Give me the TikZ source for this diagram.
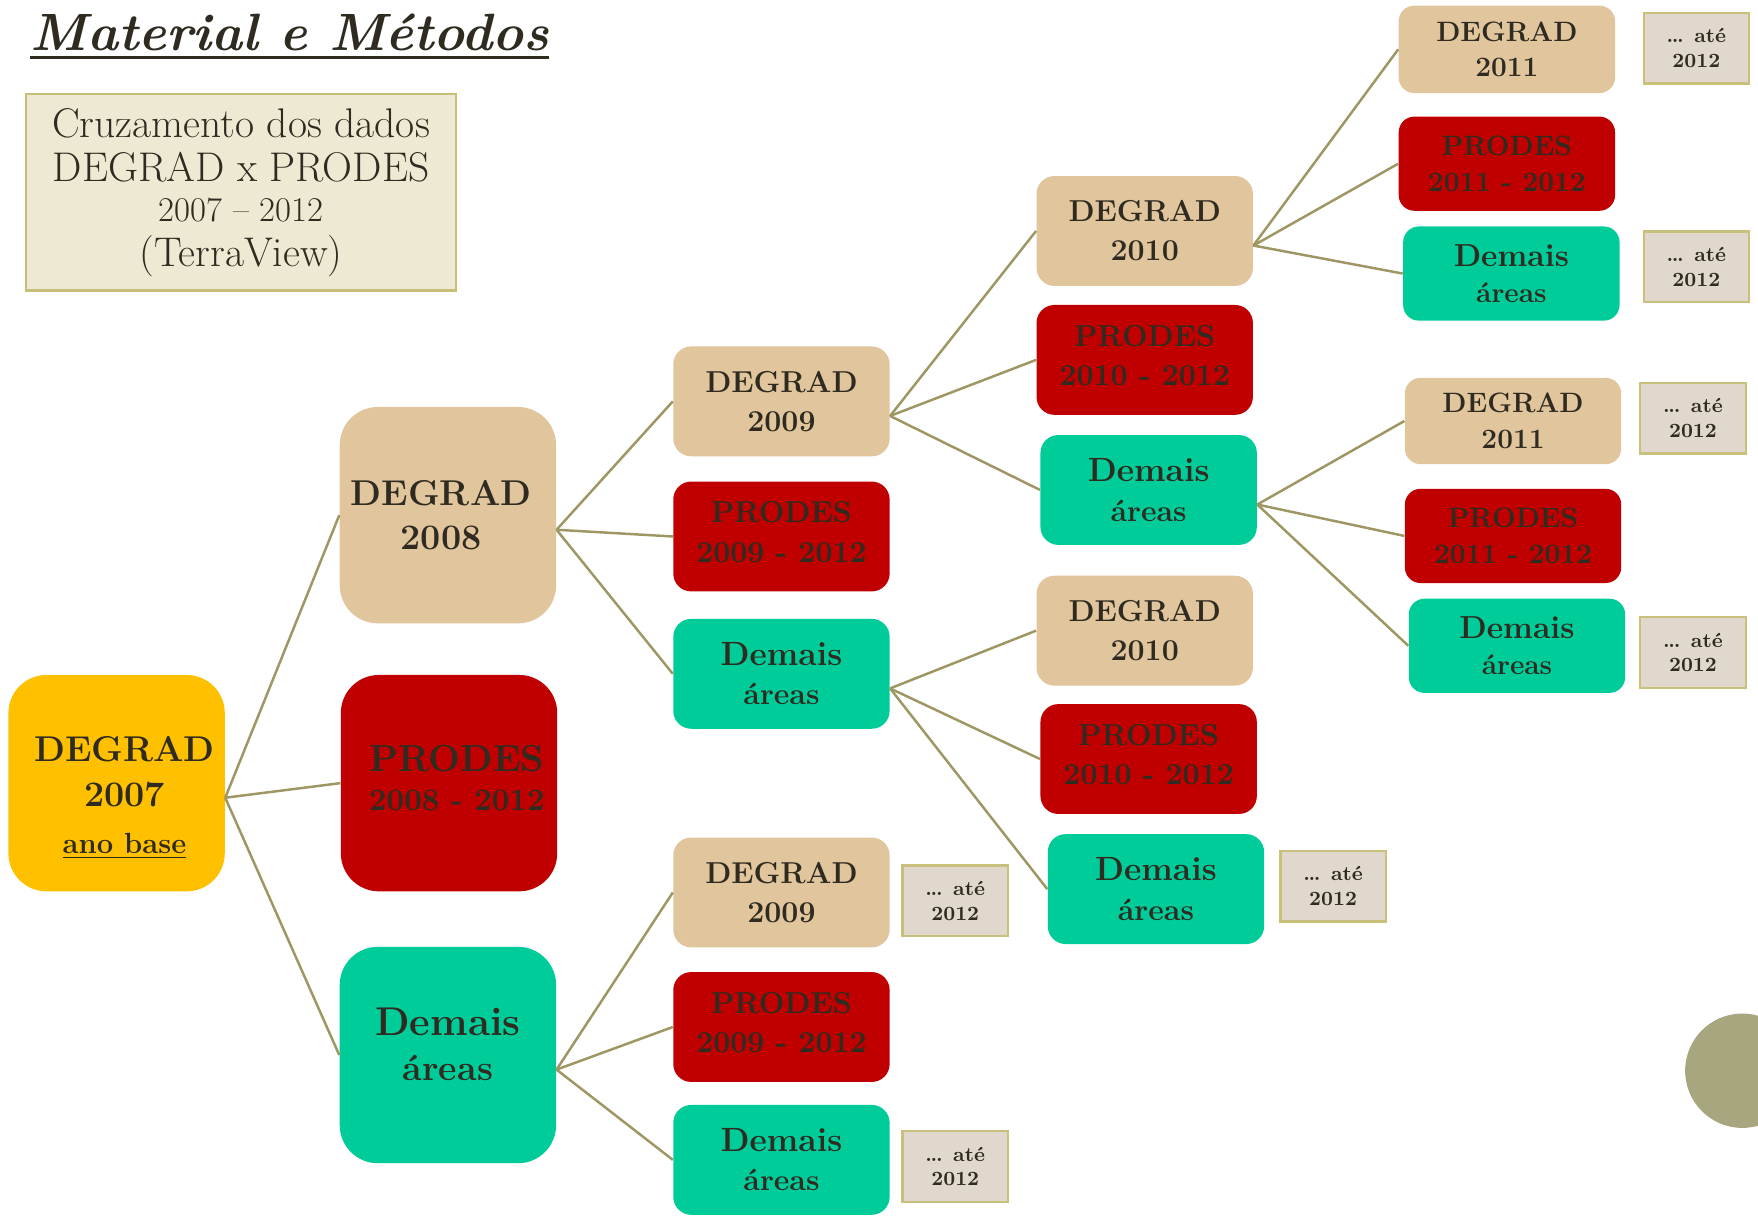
\documentclass[tikz,border=0pt]{standalone}
\usetikzlibrary{calc}
\definecolor{txt}{HTML}{2F2B20}
\definecolor{cyel}{HTML}{FFC000}
\definecolor{ctan}{HTML}{E0C59D}
\definecolor{cred}{HTML}{C00000}
\definecolor{cteal}{HTML}{00CC99}
\definecolor{atefill}{HTML}{E0D8CC}
\definecolor{ateline}{HTML}{C9C07C}
\definecolor{infofill}{HTML}{EDE9D3}
\definecolor{infoline}{HTML}{C8BF77}
\definecolor{linkc}{HTML}{9E9763}
\definecolor{circc}{HTML}{A8A67E}
\newcommand{\mydots}{.\kern-0.6pt.\kern-0.6pt.}
\tikzset{
  boxbase/.style={inner sep=0pt, align=center, text=txt},
  lvlbig/.style={boxbase, minimum width=96.5pt, minimum height=96.5pt, rounded corners=17pt,
    font=\bfseries\fontsize{16}{20}\selectfont},
  lvlmid/.style={boxbase, minimum width=96.5pt, minimum height=49pt, rounded corners=8pt,
    font=\bfseries\fontsize{13.5}{17.5}\selectfont},
  lvlsml/.style={boxbase, minimum width=96.5pt, minimum height=42pt, rounded corners=7pt,
    font=\bfseries\fontsize{12.5}{16}\selectfont},
  degc/.style={fill=ctan},
  prodc/.style={fill=cred},
  demc/.style={fill=cteal},
  atebox/.style={boxbase, draw=ateline, fill=atefill, line width=1pt, minimum width=47pt,
    minimum height=31.5pt, font=\bfseries\fontsize{9}{11}\selectfont},
  link/.style={draw=linkc, line width=1.1pt}
}
\begin{document}
\begin{tikzpicture}[x=0.5pt,y=-0.5pt]
\fill[white] (0,0) rectangle (1568,1086);
\useasboundingbox (0,0) rectangle (1568,1086);

% decorative circle
\begin{scope}
  \clip (0,0) rectangle (1568,1086);
  \fill[circc] (1554,955) circle (51);
\end{scope}

% title
\node[anchor=base west, inner sep=0pt, text=txt, font=\bfseries\itshape\fontsize{23.4}{28}\selectfont] (title) at (27,45) {Material e Métodos};
\draw[txt, line width=1.2pt] ($(title.base west)+(0,6)$) -- ($(title.base east)+(0,6)$);

% info box
\node[boxbase, draw=infoline, fill=infofill, line width=1pt, minimum width=192pt, minimum height=87.5pt,
  font=\fontsize{18.5}{20}\selectfont] (info) at (215,171.5)
  {Cruzamento dos dados\\ DEGRAD x PRODES\\[-2.5pt] {\fontsize{15.5}{18}\selectfont 2007 -- 2012}\\ (TerraView)};

% level 0
\node[lvlbig, fill=cyel] (A) at (104,698.5)
  {\hspace*{7pt}\rule{0pt}{24pt}DEGRAD\\ \hspace*{7pt}2007\\[1pt] \hspace*{7pt}{\fontsize{13}{15}\selectfont\underline{ano base}}};

% level 1
\node[lvlbig, degc] (B1) at (399.5,459.5) {DEGRAD\hspace*{6pt}\\ 2008\hspace*{6pt}};
\node[lvlbig, prodc] (B2) at (400.5,698.5)
  {\hspace*{7pt}{\fontsize{16.8}{20}\selectfont PRODES}\\[-2.5pt] \hspace*{7pt}{\fontsize{13.9}{17}\selectfont 2008 - 2012}\rule[-4.5pt]{0pt}{4.5pt}};
\node[lvlbig, demc] (B3) at (399.5,941) {\fontsize{17.9}{20}\selectfont Demais\\ áreas\rule[-10pt]{0pt}{10pt}};

% level 2
\node[lvlmid, degc] (C1) at (697,358) {DEGRAD\\ 2009};
\node[lvlmid, prodc] (C2) at (697,478.5) {PRODES\\ 2009 - 2012\rule[-4pt]{0pt}{4pt}};
\node[lvlmid, demc] (C3) at (697,601) {\fontsize{15}{17.5}\selectfont Demais\\ áreas};
\node[lvlmid, degc] (C4) at (697,796) {DEGRAD\\ 2009};
\node[lvlmid, prodc] (C5) at (697,916) {PRODES\\ 2009 - 2012\rule[-4pt]{0pt}{4pt}};
\node[lvlmid, demc] (C6) at (697,1034.5) {\fontsize{15}{17.5}\selectfont Demais\\ áreas};

% level 3
\node[lvlmid, degc] (D1) at (1021,206) {DEGRAD\\ 2010};
\node[lvlmid, prodc] (D2) at (1021,321) {PRODES\\ 2010 - 2012\rule[-4pt]{0pt}{4pt}};
\node[lvlmid, demc] (D3) at (1024.5,437) {\fontsize{15}{17.5}\selectfont Demais\\ áreas};
\node[lvlmid, degc] (D4) at (1021,562.5) {DEGRAD\\ 2010};
\node[lvlmid, prodc] (D5) at (1024.5,677) {PRODES\\ 2010 - 2012\rule[-4pt]{0pt}{4pt}};
\node[lvlmid, demc] (D6) at (1031,793) {\fontsize{15}{17.5}\selectfont Demais\\ áreas};

% level 4
\node[lvlsml, degc, minimum height=39pt] (E1) at (1344,44) {DEGRAD\\ 2011};
\node[lvlsml, prodc] (E2) at (1344,146) {PRODES\\ 2011 - 2012};
\node[lvlsml, demc] (E3) at (1348,244) {\fontsize{14.2}{16}\selectfont Demais\\ áreas};
\node[lvlsml, degc, minimum height=38.5pt] (E4) at (1349.5,375.5) {DEGRAD\\ 2011};
\node[lvlsml, prodc] (E5) at (1349.5,478) {PRODES\\ 2011 - 2012};
\node[lvlsml, demc] (E6) at (1353,576) {\fontsize{14.2}{16}\selectfont Demais\\ áreas};

% "até" boxes
\node[atebox] (T1) at (1513,43) {\mydots{} até\\ 2012};
\node[atebox] (T2) at (1513,238) {\mydots{} até\\ 2012};
\node[atebox] (T3) at (1510,373) {\mydots{} até\\ 2012};
\node[atebox] (T4) at (1510,582) {\mydots{} até\\ 2012};
\node[atebox] (T5) at (1189,790.5) {\mydots{} até\\ 2012};
\node[atebox] (T6) at (852,803.5) {\mydots{} até\\ 2012};
\node[atebox] (T7) at (852,1040.5) {\mydots{} até\\ 2012};

% connectors
\foreach \s/\t in {A/B1,A/B2,A/B3,B1/C1,B1/C2,B1/C3,B3/C4,B3/C5,B3/C6,
                   C1/D1,C1/D2,C1/D3,C3/D4,C3/D5,C3/D6,
                   D1/E1,D1/E2,D1/E3,D3/E4,D3/E5,D3/E6}
  \draw[link] ($(\s.east)+(0,13)$) -- (\t.west);
\end{tikzpicture}
\end{document}
